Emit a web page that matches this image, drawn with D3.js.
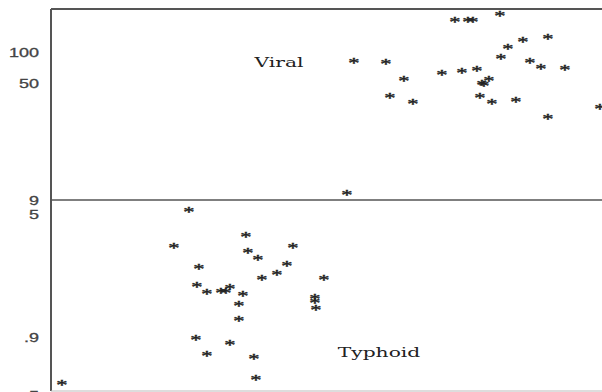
<!DOCTYPE html>
<html>
<head>
<meta charset="utf-8">
<script src="https://cdn.jsdelivr.net/npm/d3@7"></script>
<style>
  html, body { margin: 0; padding: 0; background: #fff; }
  svg { display: block; }
</style>
</head>
<body>
<svg class="chart"></svg>
<script>
// group values (x has no labelled axis)
const viralX = [29.6, 30.3, 33.5, 35.3, 33.9, 36.2, 39.1, 40.4, 41.7, 42.2, 44.9, 41.1, 42.6, 43.8, 43.1, 43.3,
                42.9, 44.1, 46.5, 45.0, 45.7, 47.2, 47.9, 49.0, 51.4, 49.7, 49.7, 54.9];
const viralY = [10.0, 83.6, 80.0, 55.9, 41.9, 38.4, 63.9, 209, 209, 209, 239, 65.4, 68.4, 55.9, 51.1, 49.3,
                41.9, 38.4, 39.0, 91.4, 114, 131, 83.6, 73.1, 71.5, 143, 30.8, 35.2];
const typhoidX = [13.8, 12.3, 19.5, 24.2, 19.7, 20.7, 14.8, 23.6, 22.6, 21.1, 27.3, 14.6, 15.6, 17.0, 17.5, 17.9,
                  19.2, 18.8, 18.8, 26.4, 26.4, 26.5, 14.5, 17.9, 15.6, 20.3, 20.5, 1.1];
const typhoidY = [5.36, 3.24, 3.78, 3.24, 2.99, 2.71, 2.39, 2.52, 2.20, 2.05, 2.05, 1.88, 1.69, 1.71, 1.73, 1.81,
                  1.64, 1.43, 1.17, 1.59, 1.49, 1.35, 0.90, 0.847, 0.765, 0.742, 0.600, 0.565];
const topTicks = [100, 50, 9];
const topTickLabels = ["100", "50", "9"];
const bottomTicks = [5, 0.9, 0.5];
const bottomTickLabels = ["5", ".9", ".5"];

const W = 602, H = 392;
const plotLeft = 51, plotTop = 9, split = 200, plotBottom = 391;
const stretch = 1.5; // the whole picture is widened horizontally

const svg = d3.select(".chart").attr("width", W).attr("height", H);

const x = d3.scaleLinear().domain([0, 56]).range([plotLeft, plotLeft + 560]);
// two stacked log panels
const yTop = d3.scaleLog().domain([9, 50, 100]).range([split, 83, 52]);
const yBot = d3.scaleLog().domain([0.5, 0.9, 5]).range([395, 337, 214]);

function axis(scale, ticks, labels) {
  const g = svg.append("g")
    .attr("transform", "translate(" + (plotLeft - 12) + ",0)")
    .call(d3.axisLeft(scale).tickValues(ticks).tickSize(0).tickPadding(0)
      .tickFormat((d, i) => labels[i]));
  g.select(".domain").remove();
  g.selectAll("text")
    .attr("x", null).attr("dy", null)
    .attr("dominant-baseline", "central")
    .attr("transform", "scale(" + stretch + ",1)")
    .attr("font-family", "'Liberation Sans', Arial, sans-serif")
    .attr("font-size", 12)
    .attr("fill", "#444")
    .attr("stroke", "#444").attr("stroke-width", 0.3);
}
axis(yTop, topTicks, topTickLabels);
axis(yBot, bottomTicks, bottomTickLabels);

// frame
const frame = svg.append("g").attr("fill", "none");
frame.append("line").attr("x1", plotLeft).attr("x2", plotLeft).attr("y1", plotTop).attr("y2", plotBottom)
  .attr("stroke", "#555").attr("stroke-width", 2);
frame.append("line").attr("x1", plotLeft).attr("x2", W).attr("y1", plotTop).attr("y2", plotTop)
  .attr("stroke", "#555").attr("stroke-width", 2);
frame.append("line").attr("x1", plotLeft).attr("x2", W).attr("y1", split).attr("y2", split)
  .attr("stroke", "#555").attr("stroke-width", 1.5);
frame.append("line").attr("x1", plotLeft).attr("x2", W).attr("y1", plotBottom).attr("y2", plotBottom)
  .attr("stroke", "#bbb").attr("stroke-width", 1);

function marks(xs, ys, yScale) {
  svg.append("g").selectAll("text")
    .data(xs.map((v, i) => [v, ys[i]]))
    .enter().append("text")
    .attr("transform", d => "translate(" + x(d[0]) + "," + yScale(d[1]) + ") scale(" + stretch + ",1)")
    .attr("y", 7.5)
    .attr("text-anchor", "middle")
    .attr("font-family", "'Liberation Serif', 'Times New Roman', serif")
    .attr("font-size", 15)
    .attr("fill", "#222")
    .attr("stroke", "#222").attr("stroke-width", 0.4)
    .text("*");
}
marks(viralX, viralY, yTop);
marks(typhoidX, typhoidY, yBot);

// group names
function label(txt, cx, by) {
  svg.append("text")
    .attr("transform", "translate(" + cx + "," + by + ") scale(" + stretch + ",1)")
    .attr("text-anchor", "middle")
    .attr("font-family", "'DejaVu Serif', serif")
    .attr("font-size", 13.5)
    .attr("fill", "#222")
    .text(txt);
}
label("Viral", 279, 67);
label("Typhoid", 379, 357);
</script>
</body>
</html>
